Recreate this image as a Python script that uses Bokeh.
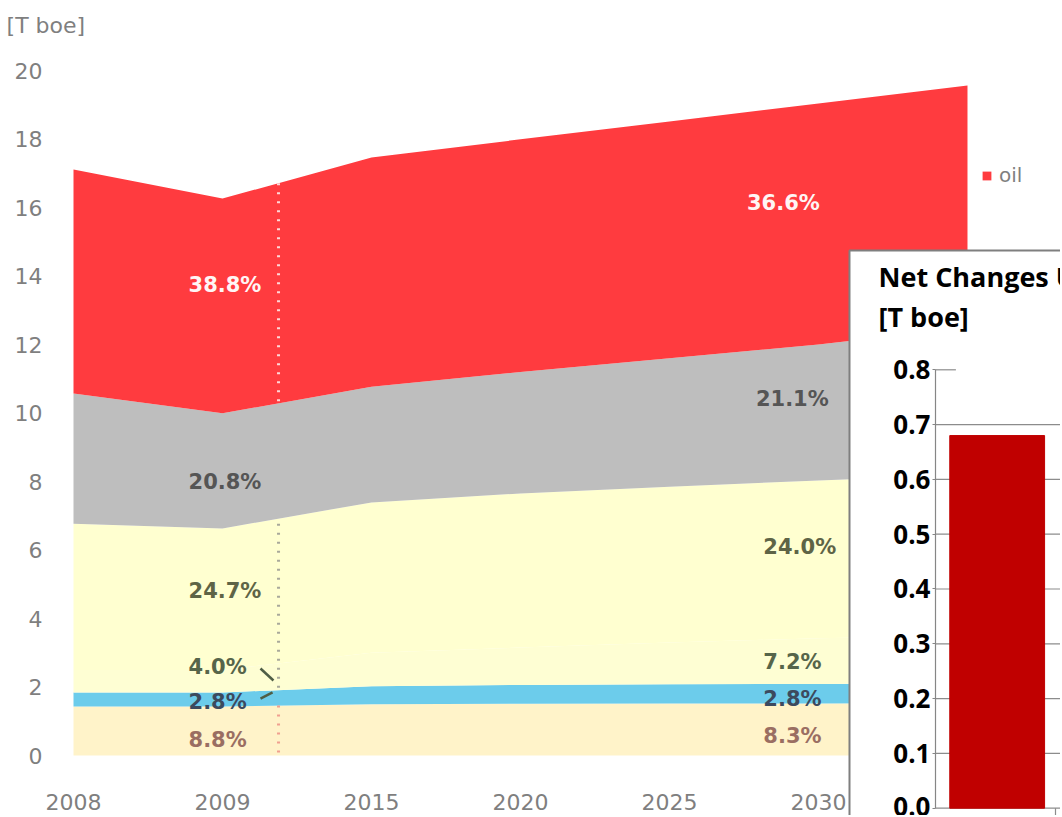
import numpy as np
from bokeh.plotting import figure
from bokeh.models import (ColumnDataSource, Range1d, FixedTicker, Legend, LegendItem,
                          LinearAxis, PrintfTickFormatter)
from bokeh.core.properties import value
from bokeh.embed import file_html
from bokeh.resources import INLINE

# ---------------- data (main stacked area) ----------------
years = ["2008", "2009", "2015", "2020", "2025", "2030", "2035"]
biomass = [1.43, 1.43, 1.50, 1.51, 1.52, 1.52, 1.53]
hydro   = [0.41, 0.41, 0.52, 0.55, 0.56, 0.57, 0.58]
nuclear = [0.66, 0.66, 0.98, 1.09, 1.22, 1.33, 1.39]
coal    = [4.27, 4.13, 4.39, 4.50, 4.55, 4.61, 4.70]
gas     = [3.80, 3.36, 3.38, 3.55, 3.75, 3.97, 4.30]
oil     = [6.54, 6.27, 6.69, 6.79, 6.91, 7.04, 7.06]

layers = ["biomass", "hydro", "nuclear", "coal", "gas", "oil"]
share_2009 = ["8.8%", "2.8%", "4.0%", "24.7%", "20.8%", "38.8%"]
share_2030 = ["8.3%", "2.8%", "7.2%", "24.0%", "21.1%", "36.6%"]

y_ticks = [0, 2, 4, 6, 8, 10, 12, 14, 16, 18, 20]
label_years = ["2008", "2009", "2015", "2020", "2025", "2030"]

# ---------------- data (inset bars) ----------------
net_cats = ["oil"]
net_change = [0.68]
net_ticks = [0.0, 0.1, 0.2, 0.3, 0.4, 0.5, 0.6, 0.7, 0.8]

# ---------------- styles ----------------
fills = ["#FFF3C9", "#6CCCEB", "#FEFED3", "#FFFFD0", "#BEBEBE", "#FF3B3F"]
label_colors = ["#9A6E62", "#3C4A5E", "#56654A", "#5E6446", "#555555", "#FFF5F5"]
FONT = "DejaVu Sans"
IFONT = "Open Sans"

W, H = 1060, 815

x = list(range(len(years)))
src = ColumnDataSource(dict(x=x, biomass=biomass, hydro=hydro, nuclear=nuclear,
                            coal=coal, gas=gas, oil=oil))

p = figure(width=W, height=H, output_backend="svg", toolbar_location=None,
           title_location=None,
           x_range=Range1d(-0.48993, 6.6242), y_range=Range1d(-1.7518, 22.044),
           min_border_left=0, min_border_right=0, min_border_top=0, min_border_bottom=0)
p.background_fill_color = "white"
p.border_fill_color = "white"
p.outline_line_color = None
p.xgrid.grid_line_color = None
p.ygrid.grid_line_color = None

rs = p.varea_stack(stackers=layers, x="x", color=fills, source=src)

# unit label
p.text(x=[-0.449], y=[21.31], text=["[T boe]"], text_font=value(FONT),
       text_font_size="22px", text_color="#7F7F7F", text_align="left",
       text_baseline="middle")

# axes (drawn inside the frame at fixed locations)
p.yaxis.fixed_location = 0
p.yaxis.ticker = FixedTicker(ticks=y_ticks)
p.yaxis.axis_line_color = None
p.yaxis.major_tick_line_color = None
p.yaxis.minor_tick_line_color = None
p.yaxis.major_label_standoff = 25
p.yaxis.major_label_text_font = FONT
p.yaxis.major_label_text_font_size = "22px"
p.yaxis.major_label_text_color = "#7F7F7F"

p.xaxis.fixed_location = 0
p.xaxis.ticker = FixedTicker(ticks=list(range(len(label_years))))
p.xaxis.major_label_overrides = {i: label_years[i] for i in range(len(label_years))}
p.xaxis.axis_line_color = None
p.xaxis.major_tick_line_color = None
p.xaxis.minor_tick_line_color = None
p.xaxis.major_label_standoff = 32
p.xaxis.major_label_text_font = FONT
p.xaxis.major_label_text_font_size = "22px"
p.xaxis.major_label_text_color = "#7F7F7F"

# cumulative boundaries for the divider line
cum = np.cumsum(np.array([biomass, hydro, nuclear, coal, gas, oil]), axis=0)
divider_x = 1.376
b = [float(np.interp(divider_x, x, cum[i])) for i in range(6)]
p.segment(x0=[divider_x] * 3, x1=[divider_x] * 3,
          y0=[b[5], b[3] - 0.15, b[0]], y1=[b[4] + 0.05, b[1], 0],
          line_color=["#FFD8D8", "#A9A99A", "#F0A090"], line_width=3, line_dash="2 7")

# leader strokes next to 4.0% / 2.8%
p.segment(x0=[1.255, 1.255], y0=[2.54, 1.66], x1=[1.342, 1.336], y1=[2.19, 1.84],
          line_color="#4F5E46", line_width=2.5)

# percentage labels
lab_y_2009 = [0.44, 1.55, 2.57, 4.79, 8.0, 13.75]
lab_y_2030 = [0.58, 1.66, 2.74, 6.1, 10.42, 16.12]
lab_x_2009 = [0.772] * 6
lab_x_2030 = [4.63, 4.63, 4.63, 4.63, 4.58, 4.52]
lsrc = ColumnDataSource(dict(x=lab_x_2009 + lab_x_2030, y=lab_y_2009 + lab_y_2030,
                             t=share_2009 + share_2030, c=label_colors + label_colors))
p.text(x="x", y="y", text="t", text_color="c", source=lsrc,
       text_font=value(FONT), text_font_style="bold", text_font_size="21px",
       text_align="left", text_baseline="middle")

legend = Legend(items=[LegendItem(label="oil", renderers=[rs[5]])], location=(981, 628),
                glyph_width=11, glyph_height=11, label_text_font=FONT,
                label_text_font_size="20px", label_text_color="#7F7F7F",
                border_line_color=None, background_fill_alpha=0, padding=0, margin=0,
                spacing=0, label_standoff=7, label_height=20)
p.add_layout(legend)

# ---------------- inset (own ranges inside the same canvas) ----------------
p.extra_x_ranges = {"inset": Range1d(-7.7917, 1.04167)}
p.extra_y_ranges = {"inset": Range1d(-0.01332, 1.47390)}
R = dict(x_range_name="inset", y_range_name="inset")

# white panel with grey border
p.quad(left=[-0.7167], right=[2.0], bottom=[-1.0], top=[1.0177],
       fill_color="white", line_color="#7F7F7F", line_width=2, **R)

# grid lines from the inset ticks
p.segment(x0=[0.0] * (len(net_ticks) - 1), x1=[1.5] * (len(net_ticks) - 1),
          y0=net_ticks[:-1], y1=net_ticks[:-1], line_color="#8C8C8C", line_width=1.2, **R)
p.segment(x0=[0.0], x1=[0.17], y0=[net_ticks[-1]], y1=[net_ticks[-1]],
          line_color="#8C8C8C", line_width=1.2, **R)

p.vbar(x=[0.514 + i for i in range(len(net_cats))], top=net_change, width=0.79,
       color="#C00000", **R)
# category boundary tick on the inset's base line
p.segment(x0=[1.0], x1=[1.0], y0=[0.0], y1=[-0.02], line_color="#8C8C8C",
          line_width=1.2, **R)

iax = LinearAxis(x_range_name="inset", y_range_name="inset", fixed_location=0,
                 bounds=(0, 0.8))
iax.ticker = FixedTicker(ticks=net_ticks)
iax.formatter = PrintfTickFormatter(format="%.1f")
iax.axis_line_color = "#868686"
iax.axis_line_width = 1.2
iax.major_tick_line_color = "#868686"
iax.major_tick_out = 3
iax.major_tick_in = 0
iax.minor_tick_line_color = None
iax.major_label_standoff = 2
iax.major_label_text_font = IFONT
iax.major_label_text_font_style = "bold"
iax.major_label_text_font_size = "26px"
iax.major_label_text_color = "black"
p.add_layout(iax, "left")

p.text(x=[-0.475, -0.475], y=[0.9703, 0.8973],
       text=["Net Changes Until 2030", "[T boe]"], text_font=value(IFONT),
       text_font_size="27px", text_font_style="bold", text_color="black",
       text_align="left", text_baseline="middle", **R)

open("out.html", "w").write(file_html(p, INLINE))
